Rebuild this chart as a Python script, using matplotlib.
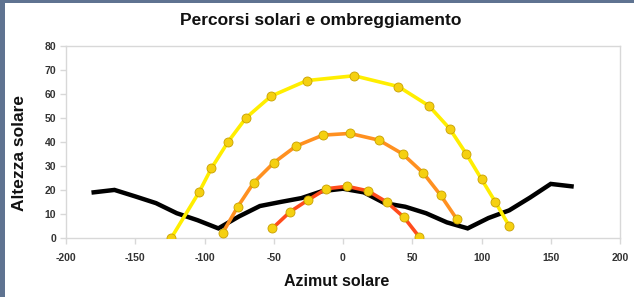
import matplotlib
matplotlib.use("Agg")
import matplotlib.pyplot as plt
from matplotlib.patches import Rectangle

plt.rcParams['font.family'] = ['Liberation Sans', 'DejaVu Sans']
plt.rcParams['axes.unicode_minus'] = False

# Sun path data (azimuth, altitude)
summer_az = [-124, -104, -95, -83, -70, -52, -26, 8, 40, 62, 77, 89, 100, 110, 120]
summer_alt = [0, 19, 29, 40, 50, 59, 65.5, 67.5, 63, 55, 45.5, 35, 24.5, 15, 5]

equinox_az = [-87, -76, -64.5, -50, -34, -14.5, 5, 26, 43, 58, 70.5, 82]
equinox_alt = [2, 13, 23, 31.3, 38.2, 42.8, 43.5, 40.7, 35, 27, 17.8, 8]

winter_az = [-51, -38, -25.5, -12, 3, 18, 31.5, 44, 55]
winter_alt = [4, 11, 15.7, 20.5, 21.5, 19.6, 15, 8.6, 0.5]

# Horizon / obstruction profile
horizon_az = [-180, -165, -150, -135, -120, -105, -90, -75, -60, -45, -30, -15,
              0, 15, 30, 45, 60, 75, 90, 105, 120, 135, 150, 165]
horizon_alt = [19, 20, 17.3, 14.5, 10.3, 7.4, 4, 9, 13.3, 15, 16.6, 19.5,
               20.5, 19, 14.5, 13, 10.3, 6.5, 4, 8.3, 11.5, 16.8, 22.5, 21.5]

fig = plt.figure(figsize=(6.34, 2.97), dpi=100)
fig.patch.set_facecolor('#5f7391')
fig.patches.append(Rectangle((5 / 634, 0), 1, 1 - 3 / 297, transform=fig.transFigure,
                             facecolor='white', edgecolor='none', zorder=-5))

ax = fig.add_axes([66 / 634, 1 - 238 / 297, 554 / 634, 192.3 / 297])
ax.set_facecolor('white')

ax.plot(horizon_az, horizon_alt, color='black', linewidth=3.2, zorder=2,
        solid_joinstyle='miter')

mk = dict(marker='o', markersize=6.5, markerfacecolor='#f5d010',
          markeredgecolor='#c8a000', markeredgewidth=0.6)
ax.plot(summer_az, summer_alt, color='#ffee00', linewidth=2.6, zorder=3, **mk)
ax.plot(equinox_az, equinox_alt, color='#ff9020', linewidth=2.6, zorder=3, **mk)
ax.plot(winter_az, winter_alt, color='#ff4c1c', linewidth=2.6, zorder=3, **mk)

ax.set_xlim(-200, 200)
ax.set_ylim(0, 80)
ax.set_xticks(range(-200, 201, 50))
ax.set_yticks(range(0, 81, 10))

for s in ax.spines.values():
    s.set_color('#d8d8d8')
    s.set_linewidth(1)
ax.tick_params(axis='both', colors='#d8d8d8', length=4, width=1,
               labelcolor='#333333', labelsize=7.5, pad=3)
ax.tick_params(axis='x', pad=7)
for lbl in ax.get_xticklabels() + ax.get_yticklabels():
    lbl.set_fontweight('bold')

fig.text(321 / 634, 1 - 20 / 297, "Percorsi solari e ombreggiamento", fontsize=12.5,
         fontweight='bold', color='#111111', ha='center', va='center')
fig.text(337 / 634, 1 - 281 / 297, "Azimut solare", fontsize=11.5,
         fontweight='bold', color='#111111', ha='center', va='center')
fig.text(20 / 634, 1 - 153 / 297, "Altezza solare", fontsize=12.5,
         fontweight='bold', color='#111111', ha='center', va='center', rotation=90)

fig.savefig("out.png", dpi=100)
